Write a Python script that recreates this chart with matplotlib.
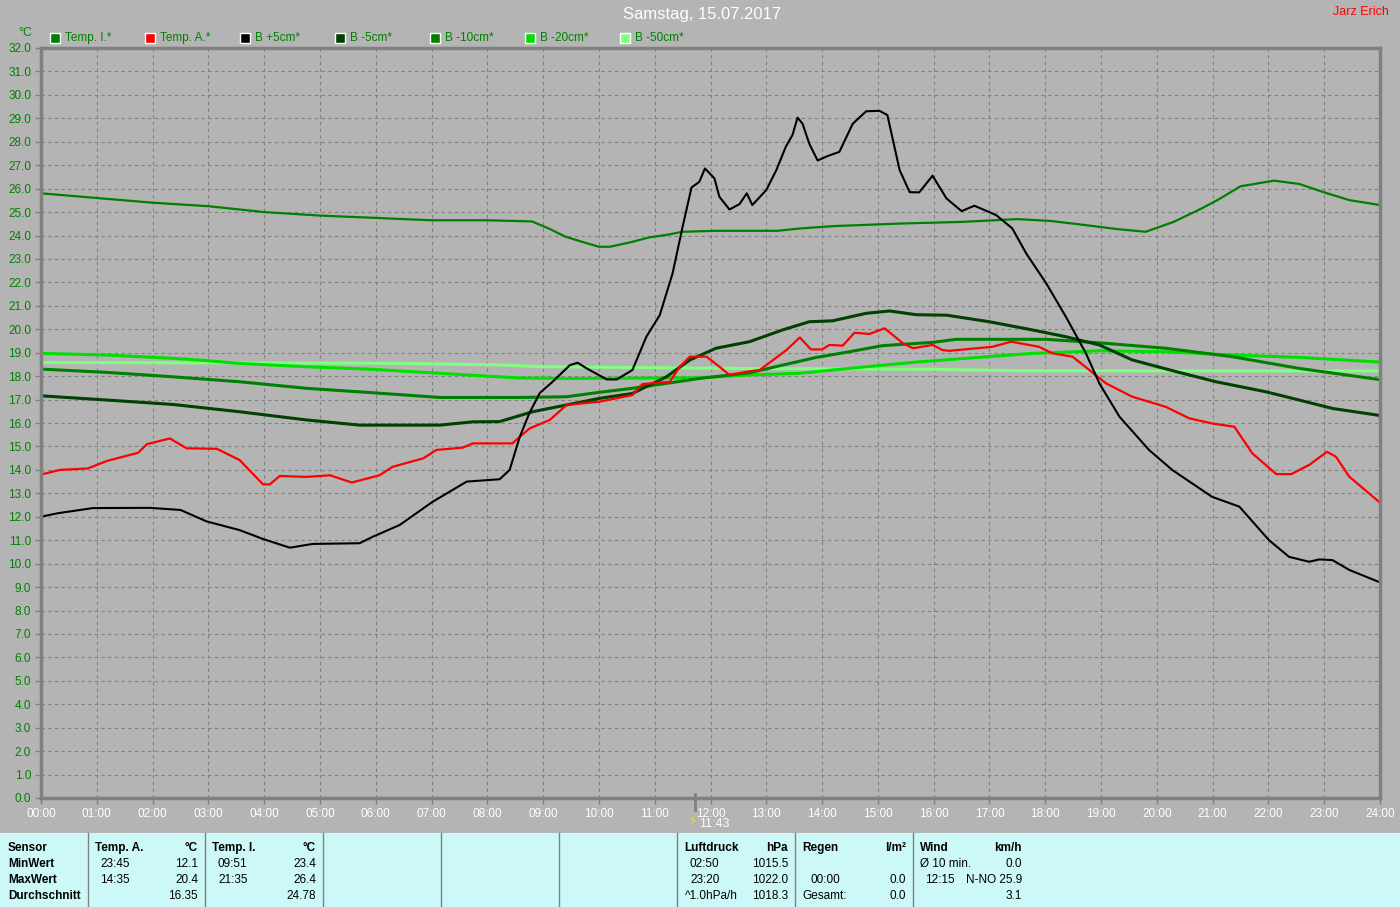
import matplotlib
matplotlib.use('Agg')
import matplotlib.pyplot as plt
from matplotlib.patches import Rectangle

plt.rcParams['font.family'] = ['Liberation Sans Narrow', 'Liberation Sans', 'DejaVu Sans']

# --- data (hours of day / degC) ---
series_names = ['Temp. I.*', 'Temp. A.*', 'B +5cm*', 'B -5cm*', 'B -10cm*', 'B -20cm*', 'B -50cm*']
series_colors = ['#008000', '#ff0000', '#000000', '#004000', '#008000', '#00e000', '#80ff80']

t_temp_i = [0, 1, 2, 3, 4, 5, 6, 7, 8, 8.8, 9.1, 9.4, 9.7, 10.0, 10.2, 10.6, 10.9, 11.2, 11.5,
            12.1, 13.2, 13.6, 14.2, 15.4, 16.5, 17.5, 18.1, 18.7, 19.3, 19.8, 20.3, 20.8, 21.1,
            21.5, 22.1, 22.55, 23.0, 23.45, 24]
temp_i = [25.8, 25.6, 25.4, 25.25, 25.0, 24.85, 24.75, 24.65, 24.65, 24.6, 24.3, 23.95, 23.73,
          23.52, 23.52, 23.73, 23.92, 24.02, 24.16, 24.2, 24.2, 24.3, 24.4, 24.51, 24.58, 24.7,
          24.62, 24.45, 24.27, 24.16, 24.58, 25.15, 25.53, 26.1, 26.34, 26.2, 25.84, 25.51, 25.3]

t_temp_a = [0, 0.34, 0.84, 1.18, 1.74, 1.9, 2.31, 2.61, 3.15, 3.56, 3.98, 4.1, 4.28, 4.76, 5.18,
            5.57, 6.07, 6.3, 6.85, 7.09, 7.56, 7.74, 8.45, 8.58, 8.76, 9.12, 9.42, 10.01, 10.6,
            10.78, 11.27, 11.45, 11.63, 11.93, 12.16, 12.34, 12.65, 12.88, 13.0, 13.36, 13.6,
            13.8, 14.0, 14.13, 14.37, 14.58, 14.85, 15.12, 15.45, 15.63, 15.98, 16.16, 16.28,
            17.05, 17.39, 17.89, 18.13, 18.49, 19.09, 19.56, 20.16, 20.58, 20.99, 21.39, 21.71,
            22.14, 22.41, 22.73, 23.05, 23.21, 23.45, 24]
temp_a = [13.8, 14.0, 14.06, 14.38, 14.73, 15.1, 15.34, 14.92, 14.9, 14.42, 13.38, 13.38, 13.74,
          13.7, 13.77, 13.46, 13.77, 14.13, 14.49, 14.85, 14.95, 15.13, 15.13, 15.41, 15.77, 16.13,
          16.77, 16.91, 17.19, 17.66, 17.76, 18.4, 18.83, 18.83, 18.4, 18.05, 18.19, 18.26, 18.47,
          19.11, 19.65, 19.14, 19.14, 19.33, 19.3, 19.85, 19.8, 20.04, 19.4, 19.19, 19.33, 19.11,
          19.08, 19.25, 19.47, 19.25, 18.97, 18.83, 17.69, 17.12, 16.69, 16.2, 15.98, 15.84, 14.71,
          13.82, 13.82, 14.21, 14.77, 14.56, 13.71, 12.6]

t_b5 = [0, 0.3, 0.93, 1.95, 2.5, 2.97, 3.56, 3.98, 4.46, 4.87, 5.71, 5.95, 6.43, 7.02, 7.63,
        8.22, 8.4, 8.58, 8.75, 8.94, 9.17, 9.48, 9.62, 9.78, 10.14, 10.32, 10.6, 10.85, 11.09,
        11.32, 11.5, 11.66, 11.8, 11.9, 12.07, 12.16, 12.34, 12.52, 12.65, 12.75, 13.0, 13.18,
        13.35, 13.47, 13.56, 13.65, 13.77, 13.92, 14.1, 14.31, 14.55, 14.79, 15.03, 15.17,
        15.39, 15.57, 15.74, 15.98, 16.23, 16.5, 16.73, 17.12, 17.41, 17.66, 18.02, 18.37,
        18.73, 18.97, 19.33, 19.86, 20.28, 20.99, 21.48, 22.01, 22.37, 22.73, 22.91, 23.15,
        23.45, 24]
b_5 = [12.0, 12.15, 12.37, 12.38, 12.29, 11.8, 11.43, 11.05, 10.68, 10.84, 10.87, 11.15, 11.65,
       12.64, 13.5, 13.6, 14.0, 15.4, 16.4, 17.28, 17.76, 18.47, 18.57, 18.33, 17.86, 17.86,
       18.26, 19.68, 20.6, 22.38, 24.37, 26.05, 26.29, 26.86, 26.44, 25.65, 25.11, 25.34, 25.8,
       25.3, 25.94, 26.79, 27.79, 28.29, 29.03, 28.77, 27.92, 27.2, 27.39, 27.57, 28.77, 29.3,
       29.32, 29.14, 26.79, 25.85, 25.84, 26.55, 25.58, 25.04, 25.27, 24.87, 24.3, 23.23, 21.95,
       20.53, 18.97, 17.69, 16.27, 14.85, 13.99, 12.85, 12.43, 11.0, 10.29, 10.08, 10.18, 10.15,
       9.73, 9.2]

t_b_5 = [0, 1.18, 2.37, 3.56, 4.76, 5.71, 7.15, 7.74, 8.22, 8.81, 9.42, 10.01, 10.6, 11.21,
         11.63, 12.1, 12.7, 13.29, 13.77, 14.19, 14.79, 15.21, 15.69, 16.23, 17.0, 17.77, 18.37,
         18.97, 19.56, 20.35, 21.06, 21.96, 22.55, 23.15, 24]
b_m5 = [17.16, 16.98, 16.79, 16.48, 16.13, 15.91, 15.91, 16.05, 16.06, 16.48, 16.77, 17.05, 17.26,
        17.97, 18.69, 19.19, 19.47, 19.97, 20.32, 20.36, 20.68, 20.78, 20.62, 20.6, 20.32, 19.97,
        19.68, 19.33, 18.69, 18.19, 17.76, 17.33, 16.98, 16.62, 16.32]

t_b_10 = [0, 1.18, 2.37, 3.56, 4.76, 5.95, 7.15, 8.58, 9.42, 10.01, 10.6, 11.21, 11.8, 12.7,
          13.29, 13.9, 14.49, 15.08, 15.98, 16.4, 18.02, 18.97, 20.16, 21.35, 22.55, 24]
b_m10 = [18.3, 18.16, 17.97, 17.76, 17.48, 17.29, 17.09, 17.09, 17.12, 17.31, 17.48, 17.69, 17.9,
         18.14, 18.47, 18.8, 19.04, 19.3, 19.44, 19.57, 19.57, 19.42, 19.19, 18.83, 18.33, 17.85]

t_b_20 = [0, 1.18, 2.37, 2.97, 3.56, 4.76, 5.95, 7.15, 8.58, 9.5, 11.8, 12.7, 13.6, 14.79, 15.69,
          16.58, 17.77, 18.97, 20.16, 21.35, 22.55, 24]
b_m20 = [18.97, 18.9, 18.76, 18.66, 18.54, 18.4, 18.29, 18.12, 17.92, 17.9, 17.93, 18.05, 18.12,
         18.4, 18.6, 18.76, 18.97, 19.08, 19.04, 18.9, 18.8, 18.6]

t_b_50 = [0, 6.2, 8.22, 9.0, 12.5, 16.0, 17.5, 24]
b_m50 = [18.58, 18.55, 18.48, 18.4, 18.33, 18.29, 18.23, 18.22]

hour_labels = ['%02d:00' % h for h in range(25)]

bg = '#b4b4b4'
frame = '#808080'
W, H = 1400, 907


def fx(px):
    return px / W


def fy(py):
    return 1 - py / H


fig = plt.figure(figsize=(14, 9.07), dpi=100, facecolor=bg)
ax = fig.add_axes([fx(41), fy(798), fx(1380) - fx(41), fy(48) - fy(798)], facecolor=bg)

ax.set_xlim(0, 24)
ax.set_ylim(0, 32)
ax.set_xticks(range(25))
ax.set_xticklabels(hour_labels, color='white', fontsize=8.5)
ax.set_yticks(range(33))
ax.set_yticklabels(['%.1f' % v for v in range(33)], color='#008000', fontsize=8.5)
ax.tick_params(axis='both', color=frame, length=4, width=1, pad=3)
ax.grid(True, color=frame, linestyle=(0, (3, 3)), linewidth=0.8)
for s in ax.spines.values():
    s.set_color(frame)
    s.set_linewidth(2.5)

# soil lines first, air lines on top
ax.plot(t_b_50, b_m50, color=series_colors[6], lw=2.2)
ax.plot(t_b_20, b_m20, color=series_colors[5], lw=2.2)
ax.plot(t_b_10, b_m10, color=series_colors[4], lw=2.2)
ax.plot(t_b_5, b_m5, color=series_colors[3], lw=2.2)
ax.plot(t_temp_i, temp_i, color=series_colors[0], lw=1.6)
ax.plot(t_temp_a, temp_a, color=series_colors[1], lw=1.6)
ax.plot(t_b5, b_5, color=series_colors[2], lw=1.5)

# current time marker
ax.plot([11.72, 11.72], [-0.5, 0.15], color=frame, lw=2, clip_on=False)
fig.text(fx(699), fy(824), '11:43', color='white', fontsize=9, va='center')
fig.text(fx(693), fy(821), '\u26a1', color='#f0e000', fontsize=10, va='center', ha='center',
         family=['DejaVu Sans'])

# titles
fig.text(fx(702), fy(15), 'Samstag, 15.07.2017', color='white', fontsize=12, ha='center', va='center')
fig.text(fx(1389), fy(12), 'Jarz Erich', color='#ff0000', fontsize=9, ha='right', va='center')
fig.text(fx(25), fy(33), '\u00b0C', color='#008000', fontsize=9, ha='center', va='center')

# legend
for i, (name, col) in enumerate(zip(series_names, series_colors)):
    x0 = 50 + i * 95
    fig.patches.append(Rectangle((fx(x0), fy(43)), fx(10), fy(33) - fy(43), transform=fig.transFigure,
                                 facecolor=col, edgecolor='white', lw=1))
    fig.text(fx(x0 + 15), fy(38), name, color='#008000', fontsize=8.5, va='center')

# bottom table
fig.patches.append(Rectangle((0, 0), 1, fy(833), transform=fig.transFigure,
                             facecolor='#ccf8f8', edgecolor='none'))
for xs in [88, 205, 323, 441, 559, 677, 795, 913]:
    fig.add_artist(plt.Line2D([fx(xs), fx(xs)], [0, fy(833)], color=frame, lw=1))

rows_y = [848, 864, 880, 896]
row_labels = ['Sensor', 'MinWert', 'MaxWert', 'Durchschnitt']
for y, lab in zip(rows_y, row_labels):
    fig.text(fx(8), fy(y), lab, fontsize=8.5, weight='bold', va='center')

cells = [
    # (x, y, text, ha, bold)
    (95, 848, 'Temp. A.', 'left', True), (198, 848, '\u00b0C', 'right', True),
    (100, 864, '23:45', 'left', False), (198, 864, '12.1', 'right', False),
    (100, 880, '14:35', 'left', False), (198, 880, '20.4', 'right', False),
    (198, 896, '16.35', 'right', False),
    (212, 848, 'Temp. I.', 'left', True), (316, 848, '\u00b0C', 'right', True),
    (218, 864, '09:51', 'left', False), (316, 864, '23.4', 'right', False),
    (218, 880, '21:35', 'left', False), (316, 880, '26.4', 'right', False),
    (316, 896, '24.78', 'right', False),
    (684, 848, 'Luftdruck', 'left', True), (788, 848, 'hPa', 'right', True),
    (690, 864, '02:50', 'left', False), (788, 864, '1015.5', 'right', False),
    (690, 880, '23:20', 'left', False), (788, 880, '1022.0', 'right', False),
    (685, 896, '^1.0hPa/h', 'left', False), (788, 896, '1018.3', 'right', False),
    (802, 848, 'Regen', 'left', True), (906, 848, 'l/m\u00b2', 'right', True),
    (810, 880, '00:00', 'left', False), (906, 880, '0.0', 'right', False),
    (802, 896, 'Gesamt:', 'left', False), (906, 896, '0.0', 'right', False),
    (920, 848, 'Wind', 'left', True), (1022, 848, 'km/h', 'right', True),
    (920, 864, '\u00d8 10 min.', 'left', False), (1022, 864, '0.0', 'right', False),
    (925, 880, '12:15', 'left', False), (1022, 880, 'N-NO 25.9', 'right', False),
    (1022, 896, '3.1', 'right', False),
]
for x, y, txt, ha, bold in cells:
    fig.text(fx(x), fy(y), txt, fontsize=8.5, ha=ha, va='center', weight='bold' if bold else 'normal')

fig.savefig('out.png', dpi=100, facecolor=bg)
